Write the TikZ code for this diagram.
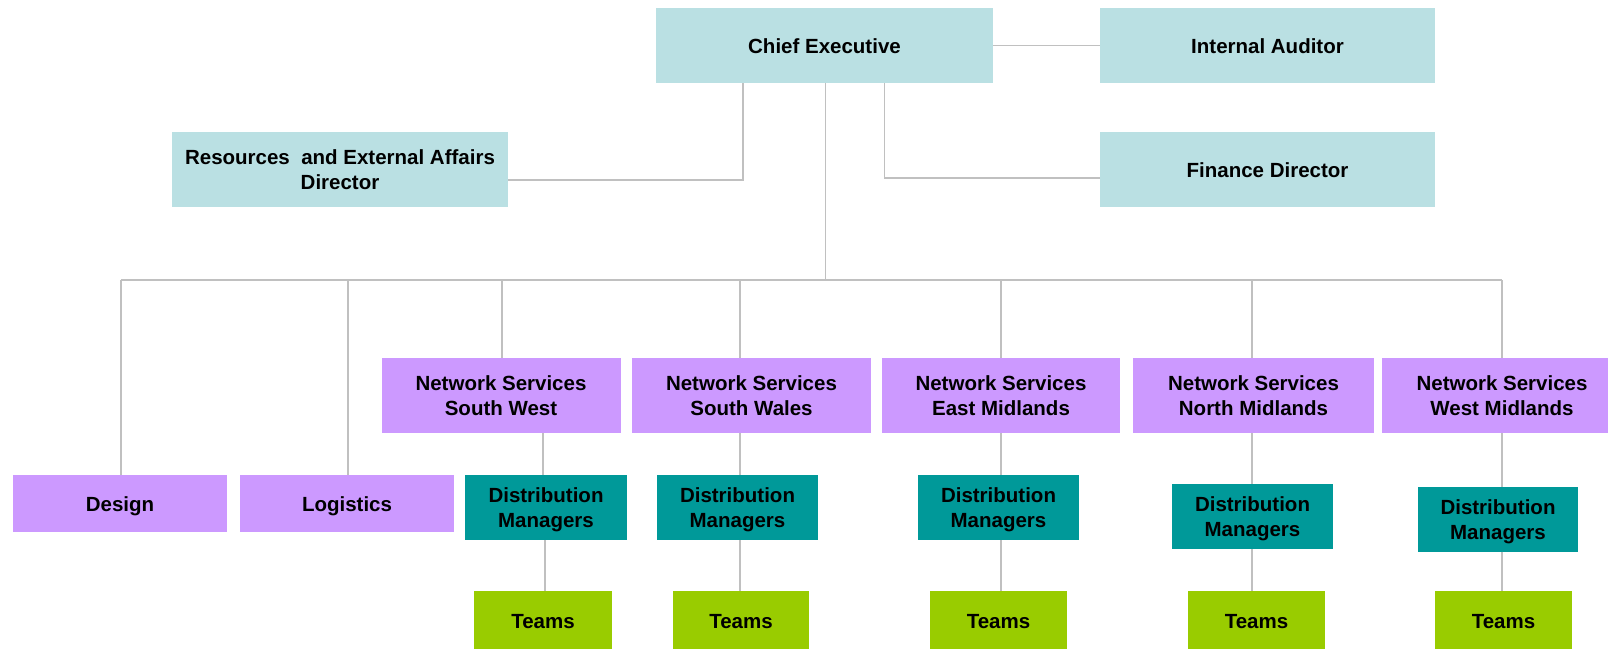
\documentclass[tikz,border=0pt]{standalone}
\usepackage{fontspec}
\setmainfont{Liberation Sans}
\definecolor{boardblue}{HTML}{BAE0E3}
\definecolor{unitlilac}{HTML}{CC99FF}
\definecolor{mgrteal}{HTML}{009999}
\definecolor{teamgreen}{HTML}{99CC00}
\definecolor{linkgray}{HTML}{C0C0C0}
% fixed line box so glyph descenders do not shift text
\newcommand{\lb}{\rule[-4.6pt]{0pt}{25pt}}
\begin{document}
\begin{tikzpicture}[x=1pt,y=-1pt,
  box/.style={inner sep=0pt, outer sep=0pt, align=center,
    font=\fontsize{20.5}{25}\selectfont\bfseries, text=black},
  board/.style={box, fill=boardblue, minimum height=75pt},
  unit/.style={box, fill=unitlilac},
  mgr/.style={box, fill=mgrteal, minimum width=161pt, minimum height=65pt},
  team/.style={box, fill=teamgreen, minimum width=137pt, minimum height=59pt},
  link/.style={draw=linkgray, line width=1.6pt}]
\useasboundingbox (0,0) rectangle (1608,648);
\clip (0,0) rectangle (1608,648);

% top level
\node[board, minimum width=337pt] (ce)  at (824.5,45.5)  {\lb Chief Executive};
\node[board, minimum width=335pt] (ia)  at (1267.5,45.5) {\lb Internal Auditor};
\node[board, minimum width=336pt] (res) at (340,169.5)   {\lb Resources\ \ and External Affairs\\\lb Director};
\node[board, minimum width=335pt] (fin) at (1267.5,169.5) {\lb Finance Director};

% divisions
\node[unit, minimum width=214pt, minimum height=57pt] (design) at (120,503.5) {\lb Design};
\node[unit, minimum width=214pt, minimum height=57pt] (logi)   at (347,503.5) {\lb Logistics};
\node[unit, minimum width=239pt, minimum height=75pt] (nssw)  at (501,395.5)    {\lb Network Services\\\lb South West};
\node[unit, minimum width=239pt, minimum height=75pt] (nsswa) at (751.5,395.5)  {\lb Network Services\\\lb South Wales};
\node[unit, minimum width=238pt, minimum height=75pt] (nsem)  at (1001,395.5)   {\lb Network Services\\\lb East Midlands};
\node[unit, minimum width=241pt, minimum height=75pt] (nsnm)  at (1253.5,395.5) {\lb Network Services\\\lb North Midlands};
\node[unit, minimum width=240pt, minimum height=75pt] (nswm)  at (1502,395.5)   {\lb Network Services\\\lb West Midlands};

% distribution managers
\node[mgr, minimum width=162pt] (dmsw)  at (546,507.5)    {\lb Distribution\\\lb Managers};
\node[mgr] (dmswa) at (737.5,507.5)  {\lb Distribution\\\lb Managers};
\node[mgr] (dmem)  at (998.5,507.5)  {\lb Distribution\\\lb Managers};
\node[mgr] (dmnm)  at (1252.5,516.5) {\lb Distribution\\\lb Managers};
\node[mgr, minimum width=160pt] (dmwm)  at (1498,519)     {\lb Distribution\\\lb Managers};

% teams
\node[team, minimum width=138pt] (tsw)  at (543,620.5)    {\lb Teams};
\node[team, minimum width=136pt] (tswa) at (741,620.5)    {\lb Teams};
\node[team] (tem)  at (998.5,620.5)  {\lb Teams};
\node[team] (tnm)  at (1256.5,620.5) {\lb Teams};
\node[team] (twm)  at (1503.5,620.5) {\lb Teams};

% junction points
\coordinate (rj) at (743,180);
\coordinate (fj) at (884.5,178);
\coordinate (bus) at (825.5,280);
\coordinate (bl) at (121,280);
\coordinate (br) at (1502,280);
\coordinate (c1) at (121,0);
\coordinate (c2) at (348,0);
\coordinate (c3) at (502,0);
\coordinate (c4) at (740,0);
\coordinate (c5) at (1001,0);
\coordinate (c6) at (1252,0);
\coordinate (c7) at (1502,0);
\coordinate (d1) at (543,0);
\coordinate (d2) at (545,0);

% connectors
\draw[link] (ce) -- (ia);
\draw[link] (ce.south -| rj) -- (rj) -- (rj -| res.east);
\draw[link] (ce.south -| fj) -- (fj) -- (fj -| fin.west);
\draw[link] (ce.south -| bus) -- (bus);
\draw[link] (bl) -- (br);
\draw[link] (bl) -- (design.north -| c1);
\draw[link] (bl -| c2) -- (logi.north -| c2);
\draw[link] (bl -| c3) -- (nssw.north -| c3);
\draw[link] (bl -| c4) -- (nsswa.north -| c4);
\draw[link] (bl -| c5) -- (nsem.north -| c5);
\draw[link] (bl -| c6) -- (nsnm.north -| c6);
\draw[link] (br) -- (nswm.north -| c7);

\draw[link] (nssw.south -| d1) -- (dmsw.north -| d1);
\draw[link] (nsswa.south -| c4) -- (dmswa.north -| c4);
\draw[link] (nsem.south -| c5) -- (dmem.north -| c5);
\draw[link] (nsnm.south -| c6) -- (dmnm.north -| c6);
\draw[link] (nswm.south -| c7) -- (dmwm.north -| c7);

\draw[link] (dmsw.south -| d2) -- (tsw.north -| d2);
\draw[link] (dmswa.south -| c4) -- (tswa.north -| c4);
\draw[link] (dmem.south -| c5) -- (tem.north -| c5);
\draw[link] (dmnm.south -| c6) -- (tnm.north -| c6);
\draw[link] (dmwm.south -| c7) -- (twm.north -| c7);
\end{tikzpicture}
\end{document}
